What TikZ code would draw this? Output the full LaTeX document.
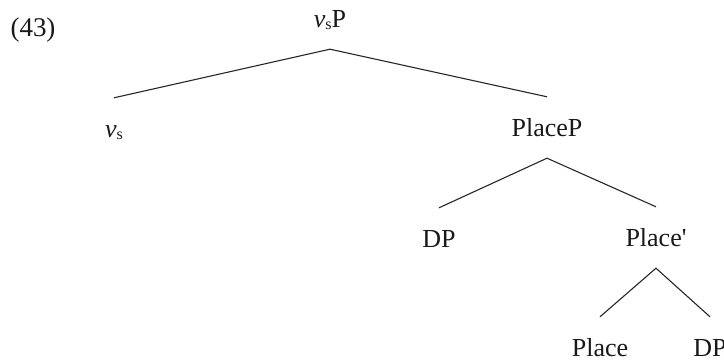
\documentclass[tikz,border=0pt]{standalone}
\usepackage{fontspec}
\setmainfont{Liberation Serif}
\newcommand{\vsub}{{\itshape v}\raisebox{-2pt}{\fontsize{16}{16}\selectfont s}}
\begin{document}
\begin{tikzpicture}[x=1pt,y=-1pt,
  cat/.style={anchor=base,font=\fontsize{26}{30}\selectfont,text height=25pt,
    text depth=6pt,inner xsep=0pt,inner ysep=15pt,text=black!90},
  branch/.style={draw=black!85,line width=1.1pt}]
  \useasboundingbox (0,0) rectangle (724,363);
  \node[cat,font=\fontsize{27}{30}\selectfont] (ex) at (33,37) {(43)};
  \node[cat] (vsP) at (330,28) {\vsub P};
  \node[cat] (vs) at (114,138) {\vsub};
  \node[cat] (PlaceP) at (547,137) {PlaceP};
  \node[cat] (DP1) at (439,248) {DP};
  \node[cat] (Placebar) at (656,247) {Place\textquotesingle};
  \node[cat] (Place) at (600,357) {Place};
  \node[cat] (DP2) at (710,357) {DP};
  \draw[branch] (vs.north) -- (vsP.south) -- (PlaceP.north);
  \draw[branch] (DP1.north) -- (PlaceP.south) -- (Placebar.north);
  \draw[branch] (Place.north) -- (Placebar.south) -- (DP2.north);
\end{tikzpicture}
\end{document}
